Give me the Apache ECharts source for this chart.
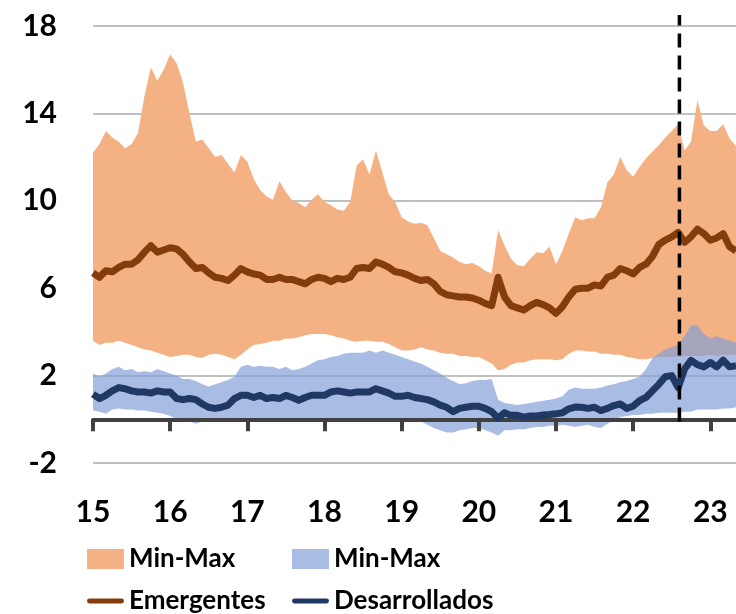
<!DOCTYPE html>
<html>
<head>
<meta charset="utf-8">
<script src="https://cdn.jsdelivr.net/npm/echarts@6/dist/echarts.min.js"></script>
<style>
  html, body { margin: 0; padding: 0; background: #fff; }
  #chart { width: 736px; height: 614px; }
</style>
</head>
<body>
<div id="chart"></div>
<script>
// monthly readings, Jan 2015 onwards
const startYear = 15;
const yearTicks = [15, 16, 17, 18, 19, 20, 21, 22, 23];
const cutoff = 22.6;

// Emergentes min-max band
const eMax = [12.2, 12.6, 13.2, 12.9, 12.7, 12.4, 12.6, 13.1, 14.8, 16.1,
  15.5, 16.0, 16.7, 16.3, 15.4, 14.0, 12.7, 12.8, 12.4, 12.0,
  12.1, 11.7, 11.3, 12.1, 11.8, 11.0, 10.5, 10.2, 10.05, 10.9,
  10.4, 10.0, 9.9, 9.7, 10.05, 10.3, 9.95, 9.8, 9.6, 9.55,
  9.95, 11.6, 11.9, 11.2, 12.3, 11.3, 10.3, 9.95, 9.25, 9.05,
  8.95, 9.0, 8.88, 8.3, 7.7, 7.55, 7.4, 7.2, 7.1, 7.15,
  7.0, 6.8, 6.67, 8.65, 7.95, 7.35, 7.05, 7.0, 7.35, 7.65,
  7.6, 7.9, 7.1, 7.7, 8.5, 9.25, 9.1, 9.2, 9.2, 9.7,
  10.85, 11.2, 12.0, 11.4, 11.1, 11.55, 11.95, 12.25, 12.55, 12.9,
  13.2, 13.5, 12.3, 12.7, 14.6, 13.45, 13.2, 13.2, 13.5, 12.85,
  12.5];
const eMin = [3.6, 3.4, 3.5, 3.5, 3.6, 3.5, 3.4, 3.3, 3.2, 3.15,
  3.05, 2.95, 2.85, 2.9, 2.95, 2.95, 2.85, 2.8, 2.95, 3.0,
  2.95, 2.85, 2.75, 2.95, 3.2, 3.4, 3.45, 3.5, 3.6, 3.6,
  3.7, 3.7, 3.75, 3.85, 3.9, 3.9, 3.9, 3.85, 3.75, 3.7,
  3.6, 3.55, 3.6, 3.6, 3.55, 3.55, 3.45, 3.3, 3.15, 3.15,
  3.2, 3.3, 3.2, 3.15, 3.05, 3.0, 3.0, 2.9, 2.9, 2.85,
  2.85, 2.7, 2.55, 2.25, 2.3, 2.5, 2.6, 2.6, 2.7, 2.75,
  2.75, 2.75, 2.7, 2.75, 3.0, 3.15, 3.15, 3.1, 3.1, 3.0,
  3.0, 2.95, 2.95, 2.85, 2.8, 2.75, 2.75, 2.8, 2.85, 2.85,
  2.85, 2.85, 2.9, 2.9, 2.9, 2.9, 2.95, 2.9, 2.95, 2.95,
  2.95];

// Desarrollados min-max band
const dMax = [2.1, 1.95, 2.1, 2.3, 2.4, 2.25, 2.3, 2.15, 2.2, 2.15,
  2.3, 2.2, 2.1, 2.0, 1.85, 1.85, 1.75, 1.6, 1.5, 1.6,
  1.7, 1.8, 1.95, 2.4, 2.5, 2.4, 2.45, 2.4, 2.4, 2.3,
  2.4, 2.25, 2.3, 2.4, 2.55, 2.7, 2.75, 2.85, 2.9, 3.0,
  3.05, 3.05, 3.05, 3.15, 3.05, 3.15, 3.05, 2.95, 2.85, 2.75,
  2.65, 2.55, 2.4, 2.25, 2.1, 1.9, 1.75, 1.6, 1.65, 1.75,
  1.8, 1.8, 1.85, 0.9, 0.75, 0.7, 0.65, 0.7, 0.75, 0.8,
  0.85, 0.9, 0.95, 1.05, 1.35, 1.45, 1.4, 1.4, 1.4, 1.45,
  1.55, 1.6, 1.7, 1.75, 1.85, 1.95, 2.3, 2.8, 3.0, 3.2,
  3.3, 3.4, 3.8, 4.3, 4.3, 3.9, 3.7, 3.8, 3.7, 3.6,
  3.5];
const dMin = [0.4, 0.35, 0.25, 0.45, 0.5, 0.45, 0.45, 0.4, 0.4, 0.35,
  0.3, 0.25, 0.15, 0.0, -0.05, -0.1, -0.2, -0.1, -0.1, -0.05,
  -0.05, -0.08, -0.05, -0.1, -0.05, -0.05, -0.08, -0.05, -0.05, -0.1,
  -0.05, -0.05, -0.08, -0.05, -0.05, -0.1, -0.05, -0.05, -0.05, -0.08,
  -0.05, -0.05, -0.1, -0.05, -0.05, -0.08, -0.05, -0.05, -0.05, 0.0,
  -0.05, -0.1, -0.25, -0.4, -0.5, -0.6, -0.6, -0.5, -0.45, -0.4,
  -0.4, -0.5, -0.6, -0.75, -0.5, -0.5, -0.45, -0.45, -0.4, -0.35,
  -0.35, -0.3, -0.3, -0.25, -0.3, -0.35, -0.3, -0.25, -0.35, -0.4,
  -0.2, -0.05, 0.1, 0.15, 0.2, 0.2, 0.25, 0.25, 0.3, 0.3,
  0.3, 0.3, 0.35, 0.35, 0.45, 0.45, 0.45, 0.45, 0.5, 0.5,
  0.55];

// averages
const emergentes = [6.7, 6.5, 6.8, 6.75, 6.95, 7.1, 7.1, 7.3, 7.65, 7.95,
  7.65, 7.75, 7.85, 7.8, 7.55, 7.2, 6.9, 6.95, 6.7, 6.5,
  6.45, 6.35, 6.6, 6.9, 6.75, 6.65, 6.6, 6.4, 6.4, 6.5,
  6.4, 6.4, 6.3, 6.2, 6.4, 6.5, 6.45, 6.3, 6.45, 6.4,
  6.5, 6.9, 6.95, 6.9, 7.2, 7.1, 6.95, 6.75, 6.7, 6.6,
  6.45, 6.35, 6.4, 6.2, 5.85, 5.7, 5.65, 5.6, 5.6, 5.55,
  5.45, 5.3, 5.2, 6.5, 5.6, 5.2, 5.1, 5.0, 5.2, 5.35,
  5.25, 5.1, 4.85, 5.15, 5.6, 5.95, 6.0, 6.0, 6.15, 6.1,
  6.5, 6.6, 6.9, 6.8, 6.65, 6.95, 7.1, 7.45, 8.0, 8.2,
  8.35, 8.55, 8.1, 8.35, 8.7, 8.5, 8.2, 8.3, 8.5, 7.9,
  7.7];
const desarrollados = [1.15, 0.95, 1.1, 1.3, 1.45, 1.4, 1.3, 1.25, 1.25, 1.2,
  1.3, 1.25, 1.25, 0.95, 0.9, 0.95, 0.9, 0.7, 0.55, 0.5,
  0.55, 0.65, 0.95, 1.1, 1.1, 1.0, 1.1, 0.95, 1.0, 0.95,
  1.1, 1.0, 0.87, 1.0, 1.1, 1.1, 1.1, 1.25, 1.3, 1.25,
  1.2, 1.25, 1.25, 1.25, 1.4, 1.3, 1.2, 1.05, 1.05, 1.1,
  1.0, 0.95, 0.9, 0.8, 0.65, 0.55, 0.35, 0.5, 0.55, 0.6,
  0.6, 0.5, 0.35, 0.05, 0.3, 0.18, 0.18, 0.1, 0.15, 0.15,
  0.2, 0.22, 0.25, 0.3, 0.48, 0.56, 0.55, 0.5, 0.55, 0.4,
  0.5, 0.63, 0.7, 0.5, 0.6, 0.85, 1.0, 1.3, 1.6, 1.95,
  2.0, 1.45, 2.3, 2.7, 2.5, 2.4, 2.6, 2.4, 2.7, 2.4,
  2.45];

const names = { mmE: "Min-Max", mmD: "Min-Max", Emergentes: "Emergentes", Desarrollados: "Desarrollados" };

// month index categories (category i = year 15 + i/12)
const months = eMax.map((_, i) => String(i));
const xMax = startYear + (eMax.length - 1) / 12;
const spread = (hi, lo) => hi.map((v, i) => +(v - lo[i]).toFixed(2));

const font = "Lato, 'Open Sans', sans-serif";
const lineIcon = "path://M2.5,0 L35,0 A2.5,2.5 0 0 1 35,5 L2.5,5 A2.5,2.5 0 0 1 2.5,0 Z";

const chart = echarts.init(document.getElementById("chart"), null, { renderer: "canvas" });

const legendBase = {
  orient: "vertical",
  top: 546,
  height: 90,
  padding: 0,
  itemWidth: 37,
  itemHeight: 20,
  itemGap: 16,
  selectedMode: false,
  formatter: (n) => names[n],
  textStyle: { fontFamily: font, fontWeight: "bold", fontSize: 26, color: "#000" },
};

const bandCommon = {
  type: "line", xAxisIndex: 2, symbol: "none", silent: true, stackStrategy: "all",
  lineStyle: { opacity: 0, width: 0 }, z: 2,
};

const option = {
  animation: false,
  grid: { left: 93, right: -3, top: 26, bottom: 151, containLabel: false },
  legend: [
    Object.assign({}, legendBase, {
      left: 87,
      data: [
        { name: "mmE", icon: "rect", itemStyle: { color: "#f4b183", opacity: 1, borderWidth: 0 } },
        { name: "Emergentes", icon: lineIcon, itemStyle: { color: "#843c0c", opacity: 1, borderWidth: 0 } },
      ],
    }),
    Object.assign({}, legendBase, {
      left: 292,
      data: [
        { name: "mmD", icon: "rect", itemStyle: { color: "#a9bce3", opacity: 1, borderWidth: 0 } },
        { name: "Desarrollados", icon: lineIcon, itemStyle: { color: "#1f3864", opacity: 1, borderWidth: 0 } },
      ],
    }),
  ],
  xAxis: [
    {
      // axis line sitting on zero with the year ticks
      type: "value",
      min: startYear,
      max: xMax,
      position: "top",
      z: 3,
      axisLine: { show: true, onZero: true, lineStyle: { color: "#404040", width: 4 } },
      axisTick: {
        show: true, inside: true, length: 12, customValues: yearTicks,
        lineStyle: { color: "#404040", width: 4 },
      },
      axisLabel: { show: false },
      splitLine: { show: false },
    },
    {
      // year labels at the bottom
      type: "value",
      min: startYear,
      max: xMax,
      position: "bottom",
      axisLine: { show: false, onZero: false },
      axisTick: { show: false },
      splitLine: { show: false },
      axisLabel: {
        customValues: yearTicks,
        margin: 34,
        fontFamily: font,
        fontWeight: "bold",
        fontSize: 30,
        color: "#000",
        formatter: (v) => String(v),
      },
    },
    {
      // monthly categories the series are drawn on
      type: "category",
      data: months,
      boundaryGap: false,
      show: false,
    },
  ],
  yAxis: {
    type: "value",
    min: -2,
    max: 18,
    interval: 4,
    axisLine: { show: false },
    axisTick: { show: false },
    splitLine: { lineStyle: { color: "#c0c0c0", width: 2 } },
    axisLabel: { margin: 36, fontFamily: font, fontWeight: "bold", fontSize: 30, color: "#000" },
  },
  series: [
    Object.assign({}, bandCommon, { name: "eBase", stack: "e", data: eMin }),
    Object.assign({}, bandCommon, {
      name: "mmE", stack: "e", data: spread(eMax, eMin),
      itemStyle: { color: "#f4b183" }, areaStyle: { color: "#f4b183", opacity: 1 },
    }),
    Object.assign({}, bandCommon, { name: "dBase", stack: "d", data: dMin }),
    Object.assign({}, bandCommon, {
      name: "mmD", stack: "d", data: spread(dMax, dMin),
      itemStyle: { color: "#a9bce3" }, areaStyle: { color: "rgba(132,159,215,0.7)", opacity: 1 },
    }),
    {
      name: "Emergentes", type: "line", xAxisIndex: 2, data: emergentes, symbol: "none",
      itemStyle: { color: "#843c0c" }, lineStyle: { color: "#843c0c", width: 7, join: "round" }, z: 4,
    },
    {
      name: "Desarrollados", type: "line", xAxisIndex: 2, data: desarrollados, symbol: "none",
      itemStyle: { color: "#1f3864" }, lineStyle: { color: "#1f3864", width: 7, join: "round" }, z: 4,
    },
    {
      name: "cutoff", type: "line", xAxisIndex: 0, symbol: "none", silent: true, clip: false, z: 6,
      data: [[cutoff, -0.1], [cutoff, 18.5]],
      lineStyle: { color: "#000", type: [14, 8], width: 3.5 },
    },
  ],
};

chart.setOption(option);
</script>
</body>
</html>
